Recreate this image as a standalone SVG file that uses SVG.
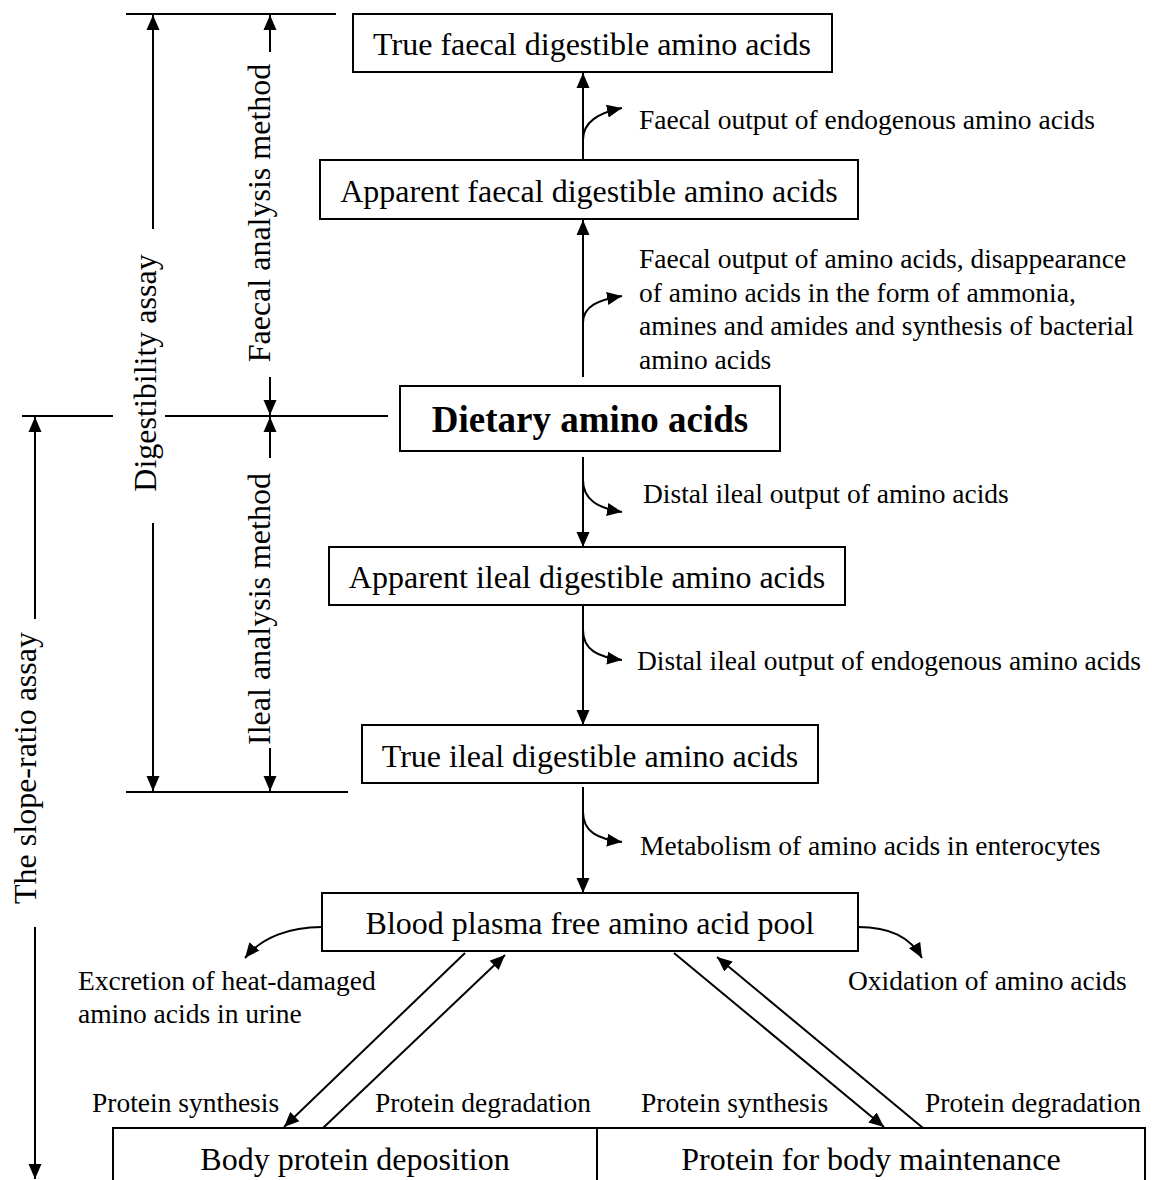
<svg xmlns="http://www.w3.org/2000/svg" width="1152" height="1180" viewBox="0 0 1152 1180">
<defs>
<marker id="ah" markerUnits="userSpaceOnUse" markerWidth="16" markerHeight="14" viewBox="0 0 16 14" refX="15" refY="7" orient="auto">
<path d="M0,0.5 L15,7 L0,13.5 z" fill="#000"/>
</marker>
<style>
text{font-family:"Liberation Serif","Times New Roman",serif;fill:#000}
.node{font-size:32px;text-anchor:middle}
.lab{font-size:27.5px}
.vt{font-size:32px;text-anchor:middle}
.box{fill:#fff;stroke:#000;stroke-width:2}
.ln{fill:none;stroke:#000;stroke-width:2}
.ar{fill:none;stroke:#000;stroke-width:2;marker-end:url(#ah)}
</style>
</defs>
<rect width="1152" height="1180" fill="#fff"/>

<g id="brackets">
<line class="ln" x1="126" y1="14" x2="336" y2="14"/>
<line class="ln" x1="22" y1="416" x2="113" y2="416"/>
<line class="ln" x1="165" y1="416" x2="388" y2="416"/>
<line class="ln" x1="126" y1="792" x2="348" y2="792"/>
<line class="ar" x1="153" y1="229" x2="153" y2="15"/>
<line class="ar" x1="153" y1="523" x2="153" y2="791"/>
<text class="vt" transform="translate(156,373) rotate(-90)">Digestibility assay</text>
<line class="ar" x1="270" y1="52" x2="270" y2="15"/>
<line class="ar" x1="270" y1="377" x2="270" y2="415"/>
<text class="vt" transform="translate(270,213) rotate(-90)">Faecal analysis method</text>
<line class="ar" x1="270" y1="458" x2="270" y2="417"/>
<line class="ar" x1="270" y1="748" x2="270" y2="791"/>
<text class="vt" transform="translate(270,609) rotate(-90)">Ileal analysis method</text>
<line class="ar" x1="35" y1="619" x2="35" y2="417"/>
<line class="ar" x1="35" y1="927" x2="35" y2="1179"/>
<text class="vt" transform="translate(36,768) rotate(-90)">The slope-ratio assay</text>
</g>

<g id="connectors">
<line class="ar" x1="583" y1="160" x2="583" y2="73"/>
<path class="ar" d="M583,140 C583,122 598,113 622,108"/>
<line class="ar" x1="583" y1="377" x2="583" y2="220"/>
<path class="ar" d="M583,323 C583,306 598,300 622,296"/>
<line class="ar" x1="583" y1="457" x2="583" y2="547"/>
<path class="ar" d="M583,480 C583,500 598,508 622,512"/>
<line class="ar" x1="583" y1="605" x2="583" y2="725"/>
<path class="ar" d="M583,630 C583,650 598,657 622,660"/>
<line class="ar" x1="583" y1="787" x2="583" y2="893"/>
<path class="ar" d="M583,812 C583,832 598,839 622,842"/>
<path class="ar" d="M322,927 C290,927 262,937 245,958"/>
<path class="ar" d="M858,927 C890,927 910,937 922,958"/>
<line class="ar" x1="465" y1="953" x2="284" y2="1127"/>
<line class="ar" x1="323" y1="1128" x2="505" y2="955"/>
<line class="ar" x1="674" y1="953" x2="884" y2="1127"/>
<line class="ar" x1="923" y1="1128" x2="717" y2="957"/>
</g>

<g id="labels">
<text class="lab" x="639" y="129">Faecal output of endogenous amino acids</text>
<text class="lab" x="639" y="268">Faecal output of amino acids, disappearance</text>
<text class="lab" x="639" y="302">of amino acids in the form of ammonia,</text>
<text class="lab" x="639" y="335">amines and amides and synthesis of bacterial</text>
<text class="lab" x="639" y="369">amino acids</text>
<text class="lab" x="643" y="503">Distal ileal output of amino acids</text>
<text class="lab" x="637" y="670">Distal ileal output of endogenous amino acids</text>
<text class="lab" x="640" y="855">Metabolism of amino acids in enterocytes</text>
<text class="lab" x="78" y="990">Excretion of heat-damaged</text>
<text class="lab" x="78" y="1023">amino acids in urine</text>
<text class="lab" x="848" y="990">Oxidation of amino acids</text>
<text class="lab" x="92" y="1112">Protein synthesis</text>
<text class="lab" x="375" y="1112">Protein degradation</text>
<text class="lab" x="641" y="1112">Protein synthesis</text>
<text class="lab" x="925" y="1112">Protein degradation</text>
</g>

<g id="n-true-faecal">
<rect class="box" x="353" y="14" width="479" height="58"/>
<text class="node" x="592" y="55">True faecal digestible amino acids</text>
</g>
<g id="n-apparent-faecal">
<rect class="box" x="320" y="160" width="538" height="59"/>
<text class="node" x="589" y="202">Apparent faecal digestible amino acids</text>
</g>
<g id="n-dietary">
<rect class="box" x="400" y="386" width="380" height="65"/>
<text class="node" x="590" y="432" style="font-size:37px;font-weight:bold">Dietary amino acids</text>
</g>
<g id="n-apparent-ileal">
<rect class="box" x="329" y="547" width="516" height="58"/>
<text class="node" x="587" y="588">Apparent ileal digestible amino acids</text>
</g>
<g id="n-true-ileal">
<rect class="box" x="362" y="725" width="456" height="58"/>
<text class="node" x="590" y="767">True ileal digestible amino acids</text>
</g>
<g id="n-blood">
<rect class="box" x="322" y="893" width="536" height="58"/>
<text class="node" x="590" y="934">Blood plasma free amino acid pool</text>
</g>
<g id="n-deposition">
<path class="ln" d="M113,1190 V1128 H597 V1190"/>
<text class="node" x="355" y="1170">Body protein deposition</text>
</g>
<g id="n-maintenance">
<path class="ln" d="M597,1128 H1145 V1190"/>
<text class="node" x="871" y="1170">Protein for body maintenance</text>
</g>
</svg>
